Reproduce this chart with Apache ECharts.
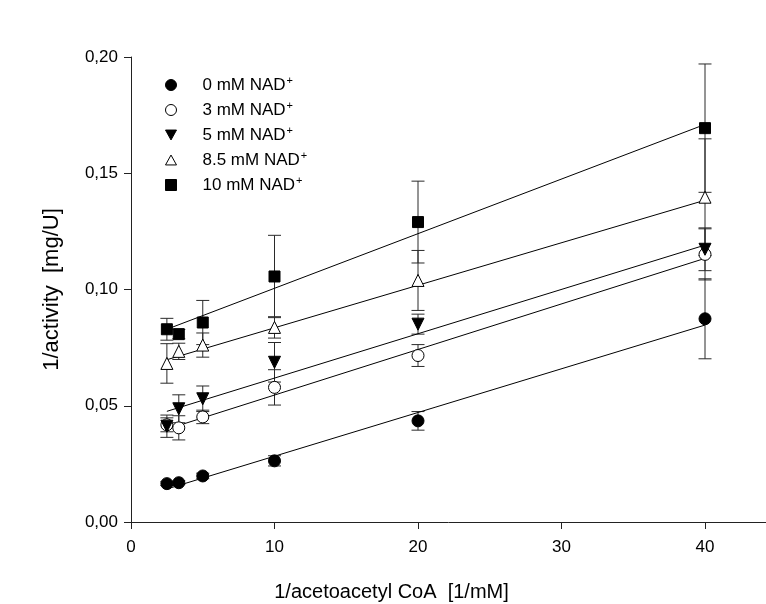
<!DOCTYPE html>
<html>
<head>
<meta charset="utf-8">
<script src="https://cdn.jsdelivr.net/npm/echarts@6/dist/echarts.min.js"></script>
<style>
html,body{margin:0;padding:0;background:#fff;}
#chart{width:766px;height:604px;}
</style>
</head>
<body>
<div id="chart"></div>
<script>
// ---- data ----
var xVals = [2.5, 3.33, 5, 10, 20, 40];

var nad0    = [0.0165, 0.0169, 0.0198, 0.0263, 0.0435, 0.0874];
var nad0Err = [0.0008, 0.0008, 0.0012, 0.0022, 0.0040, 0.0172];

var nad3    = [0.0418, 0.0405, 0.0452, 0.0579, 0.0716, 0.1151];
var nad3Err = [0.0030, 0.0052, 0.0029, 0.0076, 0.0047, 0.0110];

var nad5    = [0.0412, 0.0487, 0.0530, 0.0687, 0.0851, 0.1173];
var nad5Err = [0.0048, 0.0060, 0.0055, 0.0085, 0.0043, 0.0092];

var nad85    = [0.0682, 0.0734, 0.0761, 0.0837, 0.1039, 0.1397];
var nad85Err = [0.0085, 0.0035, 0.0052, 0.0046, 0.0129, 0.0251];

var nad10    = [0.0829, 0.0808, 0.0858, 0.1056, 0.1290, 0.1694];
var nad10Err = [0.0047, 0.0020, 0.0095, 0.0177, 0.0176, 0.0276];

// regression lines: value at x = 2.5 and x = 40
var fitX   = [2.5, 40];
var fit0   = [0.0142, 0.0847];
var fit3   = [0.0399, 0.1134];
var fit5   = [0.0476, 0.1191];
var fit85  = [0.0698, 0.1384];
var fit10  = [0.0829, 0.1710];

var seriesNames = ['0 mM NAD', '3 mM NAD', '5 mM NAD', '8.5 mM NAD', '10 mM NAD'];
var xTicks = [0, 10, 20, 30, 40];
var yTicks = [0, 0.05, 0.10, 0.15, 0.20];

// ---- build ----
var groups = [
  {name: seriesNames[0], y: nad0,  e: nad0Err,  fit: fit0,  symbol: 'circle',   rot: 0,   fill: '#000', size: 12},
  {name: seriesNames[1], y: nad3,  e: nad3Err,  fit: fit3,  symbol: 'circle',   rot: 0,   fill: '#fff', size: 12},
  {name: seriesNames[2], y: nad5,  e: nad5Err,  fit: fit5,  symbol: 'triangle', rot: 180, fill: '#000', size: 12},
  {name: seriesNames[3], y: nad85, e: nad85Err, fit: fit85, symbol: 'triangle', rot: 0,   fill: '#fff', size: 12},
  {name: seriesNames[4], y: nad10, e: nad10Err, fit: fit10, symbol: 'rect',     rot: 0,   fill: '#000', size: 11}
];

function errRender(params, api) {
  var x = api.value(0);
  var lo = api.coord([x, api.value(1)]);
  var hi = api.coord([x, api.value(2)]);
  var hw = 6.5;
  var st = {stroke: '#2a2a2a', lineWidth: 1};
  return {
    type: 'group',
    children: [
      {type: 'line', shape: {x1: lo[0], y1: lo[1], x2: hi[0], y2: hi[1]}, style: st},
      {type: 'line', shape: {x1: lo[0] - hw, y1: lo[1], x2: lo[0] + hw, y2: lo[1]}, style: st},
      {type: 'line', shape: {x1: hi[0] - hw, y1: hi[1], x2: hi[0] + hw, y2: hi[1]}, style: st}
    ]
  };
}

var series = [];
groups.forEach(function (g, gi) {
  series.push({
    type: 'custom',
    name: g.name + ' err',
    renderItem: errRender,
    encode: {x: 0, y: [1, 2]},
    data: xVals.map(function (x, i) { return [x, g.y[i] - g.e[i], g.y[i] + g.e[i]]; }),
    z: 1,
    silent: true
  });
});
groups.forEach(function (g) {
  series.push({
    type: 'line',
    name: g.name + ' fit',
    data: fitX.map(function (x, i) { return [x, g.fit[i]]; }),
    showSymbol: false,
    symbol: 'none',
    lineStyle: {color: '#000', width: 1},
    z: 2,
    silent: true
  });
});
groups.forEach(function (g, gi) {
  series.push({
    type: 'scatter',
    name: g.name,
    data: xVals.map(function (x, i) { return [x, g.y[i]]; }),
    symbol: g.symbol,
    symbolRotate: g.rot,
    symbolSize: g.size,
    itemStyle: {color: g.fill, borderColor: '#000', borderWidth: 1, opacity: 1},
    z: 3 + gi
  });
});

var legendIcons = [
  'circle', 'circle',
  'path://M0,0 L10,0 L5,9 Z',
  'path://M5,0 L10,9 L0,9 Z',
  'rect'
];

var chart = echarts.init(document.getElementById('chart'), null, {renderer: 'canvas'});
chart.setOption({
  backgroundColor: '#fff',
  animation: false,
  textStyle: {fontFamily: 'Liberation Sans, Arial, sans-serif'},
  grid: {left: 131, right: 0, top: 57, bottom: 82, containLabel: false, outerBoundsMode: 'none'},
  legend: {
    orient: 'vertical',
    left: 165,
    top: 75,
    padding: 0,
    itemGap: 6.5,
    itemWidth: 11,
    itemHeight: 11,
    selectedMode: false,
    data: seriesNames.map(function (n, i) {
      return {name: n, icon: legendIcons[i],
        itemStyle: {color: groups[i].fill, borderColor: '#000', borderWidth: 1}};
    }),
    formatter: function (name) { return '{p| }{t|' + name + '}{s|+}'; },
    textStyle: {
      color: '#000',
      rich: {
        p: {width: 21, fontSize: 17, lineHeight: 20},
        t: {fontSize: 17, lineHeight: 20, color: '#000', fontFamily: 'Liberation Sans, Arial, sans-serif'},
        s: {fontSize: 11, lineHeight: 18, verticalAlign: 'top', color: '#000', fontFamily: 'Liberation Sans, Arial, sans-serif', padding: [0, 0, 3, 1]}
      }
    }
  },
  xAxis: {
    type: 'value',
    min: 0,
    max: 44.25,
    interval: 10,
    name: '1/acetoacetyl CoA  [1/mM]',
    nameLocation: 'middle',
    nameGap: 60,
    nameTextStyle: {fontSize: 20, color: '#000', padding: [0, 114, 0, 0]},
    axisLine: {onZero: false, lineStyle: {color: '#222', width: 1}},
    axisTick: {show: true, inside: false, length: 7, lineStyle: {color: '#222'}, customValues: xTicks},
    axisLabel: {
      fontSize: 17, color: '#000', margin: 17,
      customValues: xTicks,
      formatter: function (v) { return (Math.abs(v % 10) < 1e-9) ? String(v) : ''; }
    },
    splitLine: {show: false}
  },
  yAxis: {
    type: 'value',
    min: 0,
    max: 0.2,
    interval: 0.05,
    name: '1/activity  [mg/U]',
    nameLocation: 'middle',
    nameGap: 68,
    nameTextStyle: {fontSize: 22, color: '#000'},
    axisLine: {show: true, onZero: false, lineStyle: {color: '#222', width: 1}},
    axisTick: {show: true, inside: false, length: 7, lineStyle: {color: '#222'}},
    axisLabel: {
      fontSize: 17, color: '#000', margin: 13,
      formatter: function (v) { return v.toFixed(2).replace('.', ','); }
    },
    splitLine: {show: false}
  },
  series: series
});
</script>
</body>
</html>
